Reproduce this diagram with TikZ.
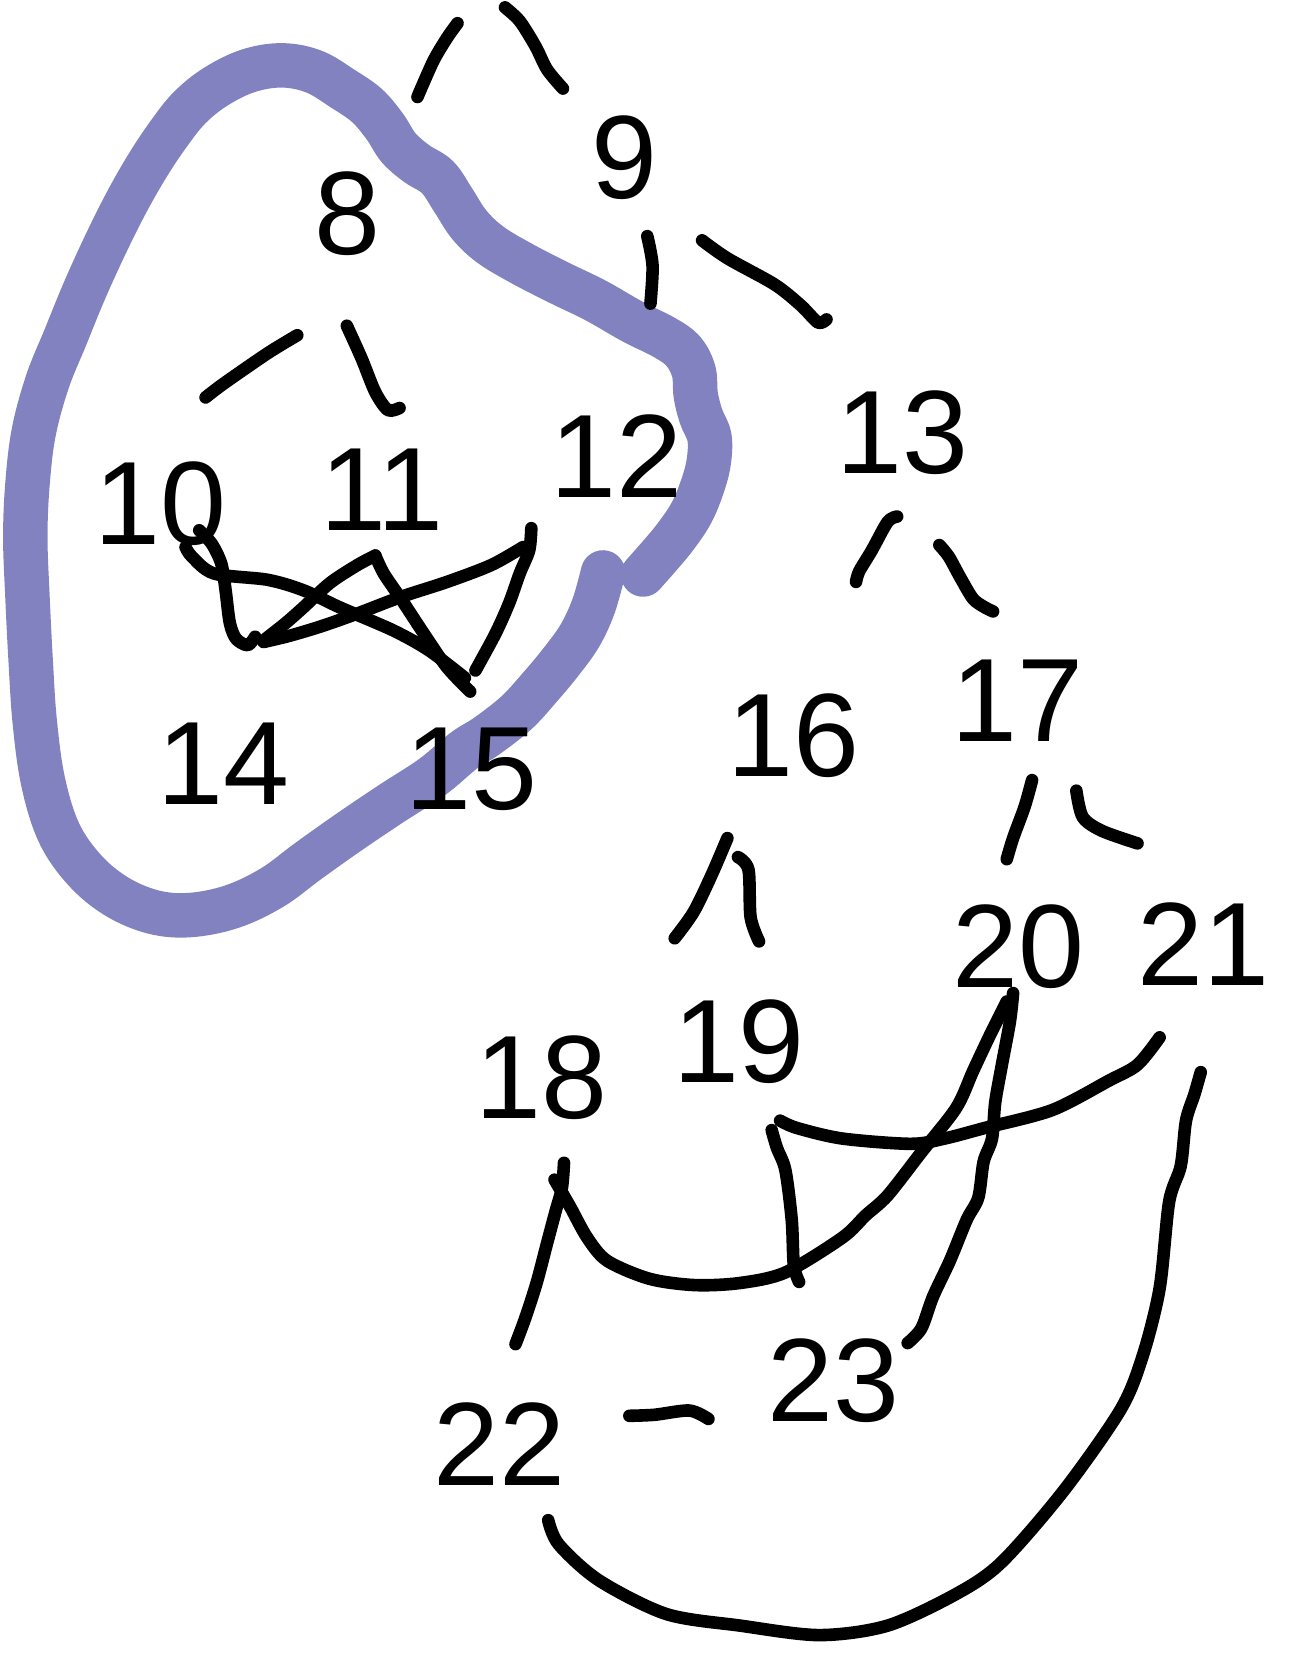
\documentclass[tikz,border=0pt]{standalone}
\usepackage{fontspec}
\setmainfont{Liberation Sans}
\definecolor{blobcol}{RGB}{130,130,192}
\begin{document}
\begin{tikzpicture}[x=0.05cm,y=-0.05cm,
  lbl/.style={inner sep=0pt,font=\fontsize{160}{160}\selectfont},
  edge/.style={line width=17pt,line cap=round,line join=round,black},
  blob/.style={line width=60pt,line cap=round,line join=round,blobcol}]
\useasboundingbox (0,0) rectangle (1223,1568);
% blob
\draw[blob] plot[smooth,tension=0.6] coordinates {
 (610,545) (625,528) (640,510) (655,488) (665,465) (672,440) (673,415)
 (665,395) (660,375) (658,352) (648,333) (630,320) (600,305) (565,285)
 (530,268) (495,250) (465,232) (445,213) (430,190) (415,168) (395,155)
 (378,140) (365,120) (348,100) (325,84) (298,68) (268,62) (236,67)
 (205,82) (180,102) (160,127) (140,157) (120,192) (100,232) (80,276)
 (62,320) (45,362) (32,410) (26,460) (24,510) (26,565) (29,625)
 (33,685) (41,742) (56,790) (80,825) (110,850) (145,865) (180,868)
 (220,860) (258,842) (292,817) (330,790) (370,763) (410,737) (440,712)
 (462,698) (490,676) (512,652) (532,628) (550,603) (563,575) (572,543)};
% nodes
\node[lbl] (n8)  at (330,203) {8};
\node[lbl] (n9)  at (592,150) {9};
\node[lbl] (n10) at (152,478) {10};
\node[lbl] (n11) at (362,465) {11};
\node[lbl] (n12) at (585,433) {12};
\node[lbl] (n13) at (856,410) {13};
\node[lbl] (n14) at (212,724) {14};
\node[lbl] (n15) at (447,730) {15};
\node[lbl] (n16) at (753,698) {16};
\node[lbl] (n17) at (965,665) {17};
\node[lbl] (n18) at (514,1022) {18};
\node[lbl] (n19) at (701,988) {19};
\node[lbl] (n20) at (966,898) {20};
\node[lbl] (n21) at (1142,896) {21};
\node[lbl] (n22) at (474,1370) {22};
\node[lbl] (n23) at (791,1310) {23};
% edge end points
\coordinate (tla) at (434,22);   \coordinate (tlb) at (396,92);
\coordinate (tra) at (479,7);    \coordinate (trb) at (534,84);
\coordinate (a912) at (614,224); \coordinate (b912) at (617,288);
\coordinate (a913) at (666,228); \coordinate (b913) at (784,303);
\coordinate (a810) at (282,318); \coordinate (b810) at (195,377);
\coordinate (a811) at (329,309); \coordinate (b811) at (379,387);
\coordinate (a1316) at (851,490); \coordinate (b1316) at (812,552);
\coordinate (a1317) at (891,517); \coordinate (b1317) at (942,580);
\coordinate (a1720) at (979,740); \coordinate (b1720) at (955,815);
\coordinate (a1721) at (1021,750); \coordinate (b1721) at (1079,800);
\coordinate (a1618) at (690,795); \coordinate (b1618) at (640,890);
\coordinate (a1619) at (700,813); \coordinate (b1619) at (720,893);
\coordinate (a1015) at (176,519); \coordinate (b1015) at (441,643);
\coordinate (a1014) at (189,503); \coordinate (b1014) at (242,604);
\coordinate (a1114) at (356,527); \coordinate (b1114) at (252,606);
\coordinate (a1115) at (356,527); \coordinate (b1115) at (446,656);
\coordinate (a1412) at (250,609); \coordinate (b1412) at (496,519);
\coordinate (a1215) at (504,501); \coordinate (b1215) at (451,636);
\coordinate (a1822) at (535,1103); \coordinate (b1822) at (489,1275);
\coordinate (a1820) at (526,1119); \coordinate (b1820) at (955,950);
\coordinate (a1921) at (740,1063); \coordinate (b1921) at (1100,984);
\coordinate (a1923) at (732,1072); \coordinate (b1923) at (758,1216);
\coordinate (a2023) at (961,942); \coordinate (b2023) at (861,1274);
\coordinate (a2122) at (1139,1017); \coordinate (b2122) at (520,1442);
\coordinate (a2223) at (597,1343); \coordinate (b2223) at (672,1346);
% edges
\draw[edge] plot[smooth] coordinates {(tla) (424,36) (411,58) (tlb)};
\draw[edge] plot[smooth] coordinates {(tra) (493,20) (508,44) (519,66) (trb)};
\draw[edge] plot[smooth] coordinates {(a912) (619,252) (b912)};
\draw[edge] plot[smooth] coordinates {(a913) (690,245) (735,270) (760,290) (776,306) (b913)};
\draw[edge] plot[smooth] coordinates {(a810) (254,335) (212,364) (b810)};
\draw[edge] plot[smooth] coordinates {(a811) (343,340) (356,372) (368,389) (b811)};
\draw[edge] plot[smooth] coordinates {(a1316) (842,495) (827,522) (815,542) (b1316)};
\draw[edge] plot[smooth] coordinates {(a1317) (900,528) (911,548) (923,568) (934,576) (b1317)};
\draw[edge] plot[smooth] coordinates {(a1720) (972,765) (961,795) (b1720)};
\draw[edge] plot[smooth] coordinates {(a1721) (1027,775) (1045,788) (b1721)};
\draw[edge] plot[smooth] coordinates {(a1618) (675,830) (658,865) (b1618)};
\draw[edge] plot[smooth] coordinates {(a1619) (710,825) (712,870) (b1619)};
% inner edges
\draw[edge] plot[smooth] coordinates {(a1015) (182,528) (203,544) (254,550) (288,560) (322,576) (373,598) (407,617) (b1015)};
\draw[edge] plot[smooth] coordinates {(a1014) (201,516) (210,535) (214,560) (218,591) (224,606) (235,612) (b1014)};
\draw[edge] plot[smooth] coordinates {(a1114) (339,536) (313,553) (288,576) (271,591) (b1114)};
\draw[edge] plot[smooth] coordinates {(a1115) (364,544) (381,569) (402,601) (424,633) (b1115)};
\draw[edge] plot[smooth] coordinates {(a1412) (275,603) (305,594) (339,582) (381,566) (424,552) (466,536) (b1412)};
\draw[edge] plot[smooth] coordinates {(a1215) (502,522) (493,544) (483,572) (470,601) (b1215)};
% lower edges
\draw[edge] plot[smooth] coordinates {(a1822) (533,1127) (527,1149) (519,1179) (509,1217) (498,1251) (b1822)};
\draw[edge] plot[smooth] coordinates {(a1820) (541,1145) (557,1174) (576,1196) (616,1213) (659,1219) (702,1217) (745,1207) (799,1174) (821,1153) (842,1134) (874,1093) (907,1051) (923,1016) (939,982) (b1820)};
\draw[edge] plot[smooth] coordinates {(a1921) (756,1070) (799,1080) (864,1085) (896,1080) (934,1070) (998,1053) (1052,1025) (1079,1010) (b1921)};
\draw[edge] plot[smooth] coordinates {(a1923) (737,1089) (745,1110) (751,1157) (753,1200) (b1923)};
\draw[edge] plot[smooth] coordinates {(a2023) (958,969) (950,1012) (944,1046) (941,1080) (933,1102) (928,1136) (917,1157) (901,1196) (885,1230) (874,1260) (b2023)};
\draw[edge] plot[smooth] coordinates {(a2122) (1133,1038) (1125,1063) (1120,1106) (1109,1140) (1100,1222) (1084,1286) (1063,1337) (1009,1414) (950,1482) (907,1512) (842,1542) (777,1551) (702,1542) (632,1531) (568,1499) (530,1465) (b2122)};
\draw[edge] plot[smooth] coordinates {(a2223) (621,1342) (654,1338) (b2223)};
\end{tikzpicture}
\end{document}
